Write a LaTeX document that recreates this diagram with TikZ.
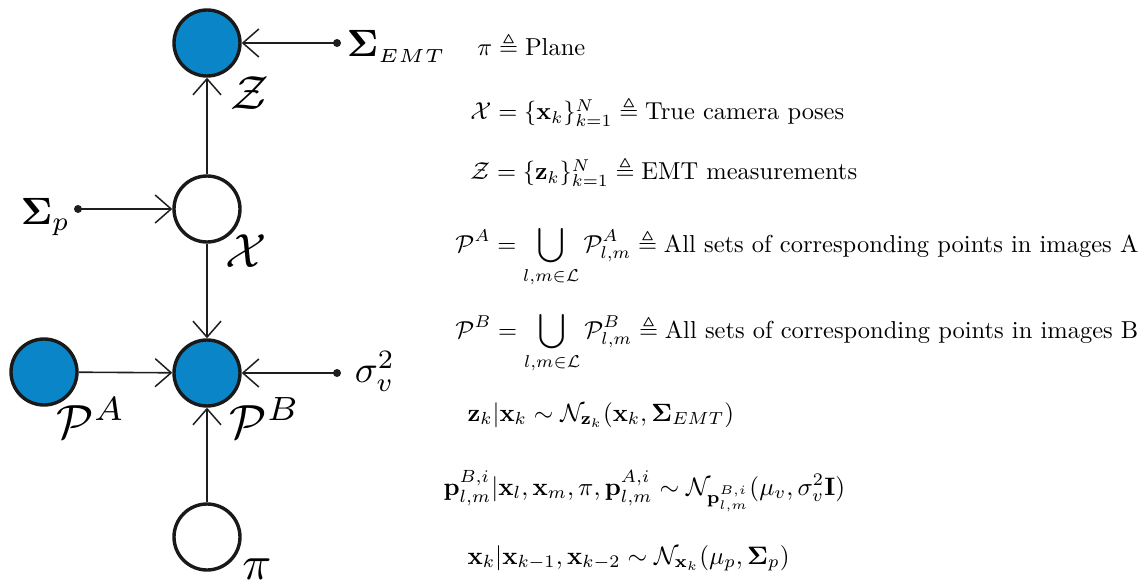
\documentclass[tikz,border=0pt]{standalone}
\usepackage{amsmath,amssymb,bm}
\usetikzlibrary{arrows.meta}
\definecolor{nodeblue}{RGB}{10,134,200}
\definecolor{edgegray}{RGB}{30,30,30}
\begin{document}
\begin{tikzpicture}[x=1pt,y=-1pt,
  var/.style={circle,draw=black!90,line width=3.4pt,minimum size=66pt,inner sep=0pt},
  obs/.style={var,fill=nodeblue},
  hid/.style={var,fill=white},
  edge/.style={draw=edgegray,line width=1.6pt,-{Straight Barb[length=16pt,width=28pt,line width=1.5pt]}},
  param/.style={circle,fill=edgegray,inner sep=0pt,minimum size=8pt},
  biglbl/.style={scale=4.8,inner sep=0pt},
  parlbl/.style={scale=3.8,inner sep=0pt,anchor=base west},
  eqn/.style={scale=2.45,inner sep=0pt,anchor=base west}
]
\useasboundingbox (0,0) rectangle (1146,588);
% graph nodes
\node[obs] (Z) at (207,43) {};
\node[hid] (X) at (207,209) {};
\node[obs] (PA) at (44,372) {};
\node[obs] (PB) at (207,373) {};
\node[hid] (pi) at (207,537) {};
% hyperparameters
\node[param] (sE) at (337,43) {};
\node[param] (sp) at (78,209) {};
\node[param] (sv) at (337,373) {};
% labels
\node[biglbl] (Zl) at (250,93) {$\mathcal{Z}$};
\node[biglbl] (Xl) at (246,251) {$\mathcal{X}$};
\node[biglbl] (PAl) at (91,418) {$\mathcal{P}^A$};
\node[biglbl] (PBl) at (265,418) {$\mathcal{P}^B$};
\node[biglbl] (pil) at (257,569) {$\pi$};
\node[parlbl] (sEl) at (346,57) {$\bm{\Sigma}_{\scriptscriptstyle EMT}$};
\node[parlbl] (spl) at (20,225) {$\bm{\Sigma}_p$};
\node[parlbl] (svl) at (354,382) {$\sigma_v^2$};
% edges
\draw[edge] (sE.center) -- (Z);
\draw[edge] (X) -- (Z);
\draw[edge] (sp.center) -- (X);
\draw[edge] (X) -- (PB);
\draw[edge] (PA) -- (PB);
\draw[edge] (sv.center) -- (PB);
\draw[edge] (pi) -- (PB);
% equations
\node[eqn] (e1) at (477,56) {$\pi \triangleq \text{Plane}$};
\node[eqn] (e2) at (470,120) {$\mathcal{X} = \{\mathbf{x}_k\}_{k=1}^{N} \triangleq \text{True camera poses}$};
\node[eqn] (e3) at (470,180) {$\mathcal{Z} = \{\mathbf{z}_k\}_{k=1}^{N} \triangleq \text{EMT measurements}$};
\node[eqn] (e4) at (455,252) {$\displaystyle \mathcal{P}^A = \bigcup_{l,m\in\mathcal{L}} \mathcal{P}^A_{l,m} \triangleq \text{All sets of corresponding points in images A}$};
\node[eqn] (e5) at (455,338) {$\displaystyle \mathcal{P}^B = \bigcup_{l,m\in\mathcal{L}} \mathcal{P}^B_{l,m} \triangleq \text{All sets of corresponding points in images B}$};
\node[eqn,scale=1.02] (e6) at (467,421) {$\mathbf{z}_k|\mathbf{x}_k \sim \mathcal{N}_{\mathbf{z}_k}(\mathbf{x}_k, \bm{\Sigma}_{EMT})$};
\node[eqn,scale=1.03] (e7) at (443,495) {$\mathbf{p}^{B,i}_{l,m}|\mathbf{x}_l, \mathbf{x}_m, \pi, \mathbf{p}^{A,i}_{l,m} \sim \mathcal{N}_{\mathbf{p}^{B,i}_{l,m}}(\mu_v, \sigma_v^2\mathbf{I})$};
\node[eqn,scale=1.03] (e8) at (467,564) {$\mathbf{x}_k|\mathbf{x}_{k-1}, \mathbf{x}_{k-2} \sim \mathcal{N}_{\mathbf{x}_k}(\mu_p, \bm{\Sigma}_p)$};
\end{tikzpicture}
\end{document}
